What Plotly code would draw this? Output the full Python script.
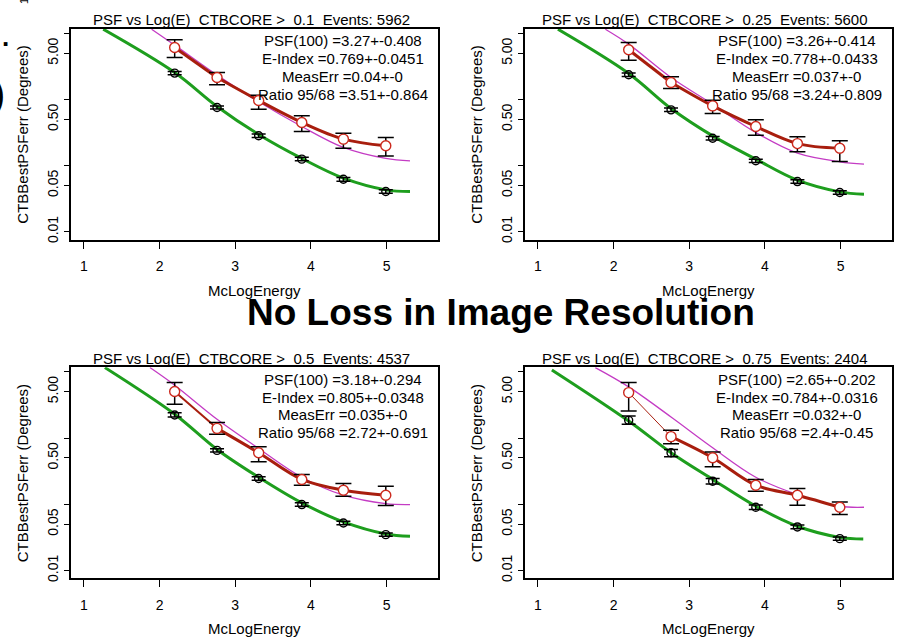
import plotly.graph_objects as go

W, H = 898, 644

# ---------------- data ----------------
energy_bins = [2.2, 2.76, 3.31, 3.88, 4.43, 4.99]

NB = "\u00a0"
titles = [
    f"PSF vs Log(E) {NB}CTBCORE > {NB}0.1 {NB}Events: 5962",
    f"PSF vs Log(E) {NB}CTBCORE > {NB}0.25 {NB}Events: 5600",
    f"PSF vs Log(E) {NB}CTBCORE > {NB}0.5 {NB}Events: 4537",
    f"PSF vs Log(E) {NB}CTBCORE > {NB}0.75 {NB}Events: 2404",
]

stats = [
    ["PSF(100) =3.27+-0.408", "E-Index =0.769+-0.0451", "MeasErr =0.04+-0", "Ratio 95/68 =3.51+-0.864"],
    ["PSF(100) =3.26+-0.414", "E-Index =0.778+-0.0433", "MeasErr =0.037+-0", "Ratio 95/68 =3.24+-0.809"],
    ["PSF(100) =3.18+-0.294", "E-Index =0.805+-0.0348", "MeasErr =0.035+-0", "Ratio 95/68 =2.72+-0.691"],
    ["PSF(100) =2.65+-0.202", "E-Index =0.784+-0.0316", "MeasErr =0.032+-0", "Ratio 95/68 =2.4+-0.45"],
]

# 95% containment points (red) and their error-bar ends
psf95 = [
    [6.14, 2.15, 0.966, 0.449, 0.251, 0.199],
    [5.66, 1.81, 0.80, 0.390, 0.215, 0.183],
    [5.04, 1.40, 0.600, 0.237, 0.163, 0.137],
    [4.86, 1.05, 0.504, 0.194, 0.137, 0.0901],
]
psf95_hi = [
    [8.02, 2.56, 1.16, 0.566, 0.309, 0.266],
    [7.31, 2.20, 0.977, 0.492, 0.272, 0.237],
    [6.89, 1.71, 0.740, 0.281, 0.206, 0.187],
    [6.89, 1.31, 0.614, 0.237, 0.173, 0.108],
]
psf95_lo = [
    [4.32, 1.67, 0.714, 0.327, 0.183, 0.140],
    [3.94, 1.47, 0.614, 0.288, 0.161, 0.115],
    [3.24, 1.14, 0.438, 0.194, 0.132, 0.0955],
    [2.56, 0.820, 0.368, 0.157, 0.0966, 0.0697],
]

# 68% containment points (black) and their error-bar ends
psf68 = [
    [2.51, 0.757, 0.282, 0.125, 0.0621, 0.0404],
    [2.37, 0.697, 0.259, 0.118, 0.0572, 0.039],
    [2.23, 0.650, 0.245, 0.0989, 0.0521, 0.0347],
    [1.85, 0.600, 0.223, 0.090, 0.0454, 0.0302],
]
psf68_hi = [
    [2.66, 0.80, 0.30, 0.133, 0.066, 0.043],
    [2.52, 0.74, 0.275, 0.125, 0.061, 0.0415],
    [2.40, 0.69, 0.26, 0.105, 0.0555, 0.0368],
    [2.15, 0.673, 0.245, 0.097, 0.0485, 0.032],
]
psf68_lo = [
    [2.37, 0.715, 0.265, 0.118, 0.058, 0.038],
    [2.23, 0.66, 0.244, 0.111, 0.054, 0.0367],
    [2.08, 0.615, 0.231, 0.093, 0.049, 0.0327],
    [1.61, 0.521, 0.203, 0.083, 0.0425, 0.0285],
]

# fitted 68% curve (green)
fit68_x = [
    [1.256, 2.2, 2.76, 3.31, 3.88, 4.43, 4.99, 5.31],
    [1.265, 2.2, 2.76, 3.31, 3.88, 4.43, 4.99, 5.31],
    [1.278, 2.2, 2.76, 3.31, 3.88, 4.43, 4.99, 5.31],
    [1.185, 2.2, 2.76, 3.31, 3.88, 4.43, 4.99, 5.30],
]
fit68_y = [
    [11.6, 2.56, 0.783, 0.295, 0.128, 0.0643, 0.0428, 0.0404],
    [11.6, 2.48, 0.731, 0.281, 0.125, 0.060, 0.0399, 0.0368],
    [11.6, 2.29, 0.673, 0.256, 0.105, 0.054, 0.0355, 0.0328],
    [10.7, 1.81, 0.600, 0.237, 0.0933, 0.0465, 0.0316, 0.0299],
]

# fitted 95% curve (magenta)
fit95_x = [
    [1.895, 2.2, 2.76, 3.31, 3.88, 4.43, 4.99, 5.31],
    [1.892, 2.2, 2.76, 3.31, 3.88, 4.43, 4.99, 5.31],
    [1.873, 2.2, 2.76, 3.31, 3.88, 4.43, 4.99, 5.31],
    [1.759, 2.2, 2.76, 3.31, 3.88, 4.43, 4.99, 5.31],
]
fit95_y = [
    [11.6, 6.65, 2.34, 0.923, 0.390, 0.188, 0.128, 0.118],
    [11.6, 6.89, 2.15, 0.849, 0.316, 0.154, 0.114, 0.105],
    [11.6, 6.28, 1.92, 0.697, 0.256, 0.137, 0.102, 0.0989],
    [11.6, 5.93, 2.08, 0.714, 0.256, 0.140, 0.0933, 0.0901],
]

x_ticks = [1, 2, 3, 4, 5]
y_ticks = [0.01, 0.05, 0.1, 0.5, 1, 5, 10]
y_ticktext = ["0.01", "0.05", "", "0.50", "", "5.00", ""]

x_title = "McLogEnergy"
y_title = "CTBBestPSFerr (Degrees)"
banner = "No Loss in Image Resolution"

# ---------------- styling / layout ----------------
FONT = "Liberation Sans, Arial, Helvetica, sans-serif"
GREEN = "#1E9E1E"
DARKRED = "#A81E0E"
MAGENTA = "#C43CC4"
RED = "#CC2A1E"
first_seg_width = [3, 3, 2, 1]

col_px = [(71, 438), (525, 892)]
row_px = [(29, 241), (369.5, 582)]

fig = go.Figure()
annotations = []
layout_axes = {}

for i in range(4):
    r, c = divmod(i, 2)
    xl, xr = col_px[c]
    yt, yb = row_px[r]
    n = "" if i == 0 else str(i + 1)
    xa, ya = "x" + n, "y" + n

    layout_axes["xaxis" + n] = dict(
        domain=[xl / W, xr / W], anchor=ya, range=[0.83, 5.68],
        tickvals=x_ticks, ticks="outside", ticklen=7, tickwidth=1, tickcolor="black",
        showline=True, linewidth=2, linecolor="black", mirror=True,
        showgrid=False, zeroline=False, ticklabelstandoff=6,
        tickfont=dict(family=FONT, size=14, color="black"),
    )
    layout_axes["yaxis" + n] = dict(
        domain=[1 - yb / H, 1 - yt / H], anchor=xa, type="log", range=[-2.12, 1.07],
        tickvals=y_ticks, ticktext=y_ticktext, tickangle=-90,
        ticks="outside", ticklen=5, tickwidth=1, tickcolor="black",
        showline=True, linewidth=2, linecolor="black", mirror=True,
        showgrid=False, zeroline=False,
        tickfont=dict(family=FONT, size=14, color="black"),
    )

    # magenta fit (95%)
    fig.add_trace(go.Scatter(x=fit95_x[i], y=fit95_y[i], mode="lines", xaxis=xa, yaxis=ya,
                             line=dict(color=MAGENTA, width=1.3, shape="spline"), showlegend=False))
    # green fit (68%)
    fig.add_trace(go.Scatter(x=fit68_x[i], y=fit68_y[i], mode="lines", xaxis=xa, yaxis=ya,
                             line=dict(color=GREEN, width=3, shape="spline"), showlegend=False))
    # dark red line through the 95% points
    fig.add_trace(go.Scatter(x=energy_bins[:2], y=psf95[i][:2], mode="lines", xaxis=xa, yaxis=ya,
                             line=dict(color=DARKRED, width=first_seg_width[i]), showlegend=False))
    fig.add_trace(go.Scatter(x=energy_bins[1:], y=psf95[i][1:], mode="lines", xaxis=xa, yaxis=ya,
                             line=dict(color=DARKRED, width=3, shape="spline"), showlegend=False))
    # 68% points
    fig.add_trace(go.Scatter(
        x=energy_bins, y=psf68[i], mode="markers", xaxis=xa, yaxis=ya,
        marker=dict(symbol="circle-open", size=8, color="black", line=dict(width=1.4, color="black")),
        error_y=dict(type="data", symmetric=False,
                     array=[h - v for h, v in zip(psf68_hi[i], psf68[i])],
                     arrayminus=[v - l for v, l in zip(psf68[i], psf68_lo[i])],
                     color="black", thickness=1.5, width=7),
        showlegend=False))
    # 95% points
    fig.add_trace(go.Scatter(
        x=energy_bins, y=psf95[i], mode="markers", xaxis=xa, yaxis=ya,
        marker=dict(symbol="circle", size=10, color="white", line=dict(width=1.4, color=RED)),
        error_y=dict(type="data", symmetric=False,
                     array=[h - v for h, v in zip(psf95_hi[i], psf95[i])],
                     arrayminus=[v - l for v, l in zip(psf95[i], psf95_lo[i])],
                     color="black", thickness=1.5, width=8),
        showlegend=False))

    dy = row_px[r][0] - row_px[0][0]
    # panel title
    annotations.append(dict(text=titles[i], x=(xl + xr) / 2 / W - 3 / W, y=1 - (20 + dy) / H,
                            xref="paper", yref="paper", showarrow=False, xanchor="center", yanchor="middle",
                            font=dict(family=FONT, size=15, color="black")))
    # stats text
    for k, line in enumerate(stats[i]):
        annotations.append(dict(text=line, x=(xr - 95.5) / W, y=1 - ([41, 59.3, 77, 95][k] + dy) / H,
                                xref="paper", yref="paper", showarrow=False, xanchor="center", yanchor="middle",
                                font=dict(family=FONT, size=15, color="black")))
    # axis titles
    annotations.append(dict(text=x_title, x=(xl + xr) / 2 / W, y=1 - (292 + dy) / H,
                            xref="paper", yref="paper", showarrow=False, xanchor="center", yanchor="middle",
                            font=dict(family=FONT, size=15, color="black")))
    annotations.append(dict(text=y_title, x=(xl - 48.5) / W, y=1 - ((yt + yb) / 2 + 1) / H, textangle=-90,
                            xref="paper", yref="paper", showarrow=False, xanchor="center", yanchor="middle",
                            font=dict(family=FONT, size=15, color="black")))

annotations.append(dict(text="<b>" + banner + "</b>", x=501 / W, y=1 - 314 / H,
                        xref="paper", yref="paper", showarrow=False, xanchor="center", yanchor="middle",
                        font=dict(family=FONT, size=37, color="black")))
# remnants of the surrounding slide at the left edge
annotations.append(dict(text=")", x=-2 / W, y=1 - 95 / H, xref="paper", yref="paper", showarrow=False,
                        xanchor="center", yanchor="middle", font=dict(family=FONT, size=40, color="black")))
annotations.append(dict(text="<b>.</b>", x=5 / W, y=1 - 37 / H, xref="paper", yref="paper", showarrow=False,
                        xanchor="center", yanchor="middle", font=dict(family=FONT, size=26, color="black")))
annotations.append(dict(text="15", x=24 / W, y=1 + 2 / H, xref="paper", yref="paper", showarrow=False,
                        textangle=-90, xanchor="center", yanchor="middle",
                        font=dict(family=FONT, size=11, color="black")))

fig.update_layout(
    width=W, height=H, margin=dict(l=0, r=0, t=0, b=0),
    paper_bgcolor="white", plot_bgcolor="white",
    annotations=annotations, **layout_axes,
)

fig.write_html("out.html")
